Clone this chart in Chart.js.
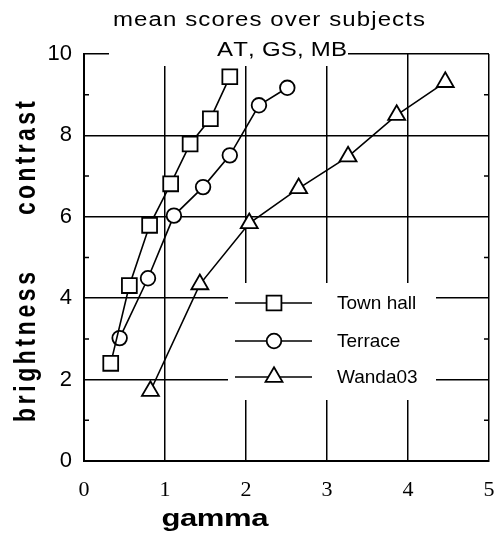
<!DOCTYPE html>
<html>
<head>
<meta charset="utf-8">
<title>mean scores over subjects</title>
<script src="https://cdn.jsdelivr.net/npm/chart.js@4"></script>
<style>
  html, body { margin: 0; padding: 0; background: #fff; }
  canvas { display: block; }
</style>
</head>
<body>
<canvas id="chart" width="495" height="534"></canvas>
<script>
// Mean brightness/contrast scores against display gamma, per scene
const seriesNames = ['Town hall', 'Terrace', 'Wanda03'];

const gammaTownHall = [0.33, 0.56, 0.81, 1.07, 1.31, 1.56, 1.80];
const scoreTownHall = [2.40, 4.31, 5.79, 6.81, 7.79, 8.41, 9.44];

const gammaTerrace = [0.44, 0.79, 1.11, 1.47, 1.80, 2.16, 2.51];
const scoreTerrace = [3.02, 4.49, 6.03, 6.73, 7.51, 8.74, 9.17];

const gammaWanda03 = [0.82, 1.43, 2.04, 2.65, 3.26, 3.86, 4.46];
const scoreWanda03 = [1.72, 4.34, 5.84, 6.70, 7.48, 8.50, 9.31];

const xTickLabels = ['0', '1', '2', '3', '4', '5'];
const yTickLabels = ['0', '2', '4', '6', '8', '10'];
const yMinorTicks = [1, 3, 5, 7, 9];

const titleLines = ['mean scores over subjects', 'AT, GS, MB'];
const xTitle = 'gamma';
const yTitleParts = ['brightness', 'contrast'];

const toPoints = (xs, ys) => xs.map((x, i) => ({ x: x, y: ys[i] }));

const markerStyles = [
  { pointStyle: 'rect', radius: 10.5 },
  { pointStyle: 'circle', radius: 7.3 },
  { pointStyle: 'triangle', radius: 9.8 }
];

const seriesData = [
  toPoints(gammaTownHall, scoreTownHall),
  toPoints(gammaTerrace, scoreTerrace),
  toPoints(gammaWanda03, scoreWanda03)
];

// Text drawn letter by letter so it can be widened to a given length
function spacedText(ctx, text, cx, cy, opt) {
  ctx.save();
  ctx.font = opt.font;
  ctx.fillStyle = '#000';
  ctx.textBaseline = 'middle';
  ctx.textAlign = 'left';
  ctx.translate(cx, cy);
  const sx = opt.sx || 1;
  ctx.scale(sx, 1);
  if (opt.rotate) ctx.rotate(-Math.PI / 2);
  const along = opt.rotate ? 1 : sx;
  const chars = Array.from(text);
  const widths = chars.map(c => ctx.measureText(c).width);
  const natural = widths.reduce((a, b) => a + b, 0);
  const gap = chars.length > 1 ? (opt.len / along - natural) / (chars.length - 1) : 0;
  let x = -(natural + gap * (chars.length - 1)) / 2;
  chars.forEach((c, i) => { ctx.fillText(c, x, 0); x += widths[i] + gap; });
  ctx.restore();
}

function marker(ctx, style, radius, x, y) {
  ctx.save();
  ctx.fillStyle = '#fff';
  ctx.strokeStyle = '#000';
  ctx.lineWidth = 1.8;
  if (Chart.helpers && Chart.helpers.drawPoint) {
    Chart.helpers.drawPoint(ctx, { pointStyle: style, radius: radius, rotation: 0, borderWidth: 1.8 }, x, y);
  } else {
    ctx.beginPath();
    if (style === 'rect') {
      const s = radius * Math.SQRT1_2;
      ctx.rect(x - s, y - s, 2 * s, 2 * s);
    } else if (style === 'circle') {
      ctx.arc(x, y, radius, 0, Math.PI * 2);
    } else {
      ctx.moveTo(x, y - radius);
      ctx.lineTo(x + radius * Math.sin(2 * Math.PI / 3), y + radius / 2);
      ctx.lineTo(x - radius * Math.sin(2 * Math.PI / 3), y + radius / 2);
      ctx.closePath();
    }
    ctx.fill();
    ctx.stroke();
  }
  ctx.restore();
}

// White panels for the subject line and the key, laid over the grid
const panelsPlugin = {
  id: 'panels',
  beforeDatasetsDraw(chart) {
    const ctx = chart.ctx;
    const xs = chart.scales.x, ys = chart.scales.y;
    ctx.save();
    // minor ticks on both vertical axes
    ctx.strokeStyle = '#000';
    ctx.lineWidth = 1.5;
    yMinorTicks.forEach(v => {
      const py = ys.getPixelForValue(v);
      ctx.beginPath();
      ctx.moveTo(xs.left, py); ctx.lineTo(xs.left + 5, py);
      ctx.moveTo(xs.right, py); ctx.lineTo(xs.right - 5, py);
      ctx.stroke();
    });
    ctx.fillStyle = '#fff';
    ctx.fillRect(109, 36, 239, 30);
    ctx.fillRect(228, 283, 208, 117);
    ctx.restore();
  },
  afterDraw(chart) {
    const ctx = chart.ctx;
    spacedText(ctx, titleLines[0], 269, 20, { font: '20px "Liberation Sans", Arial, sans-serif', sx: 1.2, len: 312 });
    spacedText(ctx, titleLines[1], 282, 50, { font: '20px "Liberation Sans", Arial, sans-serif', sx: 1.2, len: 130 });
    spacedText(ctx, xTitle, 215, 520, { font: 'bold 23px "Liberation Sans", Arial, sans-serif', sx: 1.35, len: 107 });
    spacedText(ctx, yTitleParts[0], 27, 347, { font: 'bold 23px "Liberation Sans", Arial, sans-serif', sx: 1.25, len: 150, rotate: true });
    spacedText(ctx, yTitleParts[1], 27, 158, { font: 'bold 23px "Liberation Sans", Arial, sans-serif', sx: 1.25, len: 114, rotate: true });

    // key: sample line, marker and name for each series
    const rows = [303, 341, 377];
    ctx.save();
    seriesNames.forEach((name, i) => {
      const y = rows[i];
      ctx.strokeStyle = '#000';
      ctx.lineWidth = 1.6;
      ctx.beginPath();
      ctx.moveTo(235, y); ctx.lineTo(312, y);
      ctx.stroke();
      marker(ctx, markerStyles[i].pointStyle, markerStyles[i].radius, 274, y);
      ctx.fillStyle = '#000';
      ctx.font = '19px "Liberation Sans", Arial, sans-serif';
      ctx.textBaseline = 'middle';
      ctx.textAlign = 'left';
      ctx.fillText(name, 337, y + 1);
    });
    ctx.restore();
  }
};

const datasets = seriesNames.map((name, i) => ({
  label: name,
  data: seriesData[i],
  borderColor: '#000',
  borderWidth: 1.6,
  backgroundColor: '#fff',
  pointStyle: markerStyles[i].pointStyle,
  pointRadius: markerStyles[i].radius,
  pointHoverRadius: markerStyles[i].radius,
  pointBackgroundColor: '#fff',
  pointBorderColor: '#000',
  pointBorderWidth: 1.8,
  tension: 0,
  fill: false
}));

new Chart(document.getElementById('chart'), {
  type: 'line',
  data: { datasets: datasets },
  plugins: [panelsPlugin],
  options: {
    responsive: false,
    animation: false,
    events: [],
    layout: { autoPadding: false, padding: { top: 54, right: 6, bottom: 0, left: 0 } },
    plugins: { legend: { display: false }, title: { display: false }, tooltip: { enabled: false } },
    scales: {
      x: {
        type: 'linear',
        min: 0, max: 5,
        afterFit(scale) { scale.height = 73; scale.paddingLeft = 0; scale.paddingRight = 0; },
        ticks: {
          stepSize: 1,
          color: '#000',
          padding: 16,
          maxRotation: 0,
          font: { family: '"Liberation Serif", "Times New Roman", serif', size: 22 },
          callback: (v) => xTickLabels[v] !== undefined ? xTickLabels[v] : ''
        },
        grid: { color: '#000', lineWidth: 1.5, drawTicks: false },
        border: { display: true, color: '#000', width: 2 }
      },
      y: {
        type: 'linear',
        min: 0, max: 10,
        afterFit(scale) { scale.width = 84; scale.paddingTop = 0; scale.paddingBottom = 0; },
        ticks: {
          stepSize: 2,
          color: '#000',
          padding: 12,
          font: { family: '"Liberation Sans", Arial, sans-serif', size: 22 },
          callback: (v) => yTickLabels[v / 2] !== undefined ? yTickLabels[v / 2] : ''
        },
        grid: { color: '#000', lineWidth: 1.5, drawTicks: false },
        border: { display: true, color: '#000', width: 2 }
      }
    }
  }
});
</script>
</body>
</html>
